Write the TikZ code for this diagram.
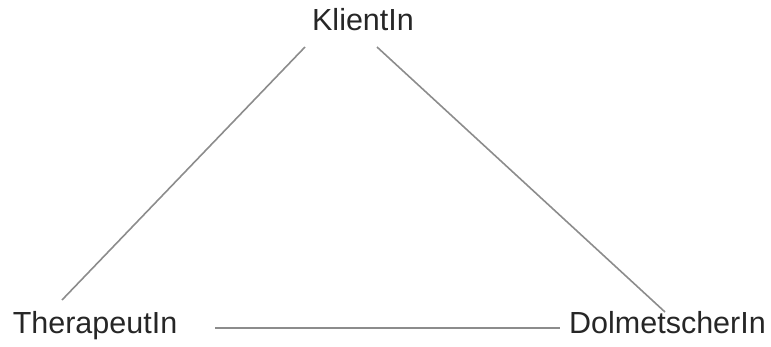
\documentclass[tikz,border=0pt]{standalone}
\usepackage{fontspec}
\setmainfont{Liberation Sans}
\begin{document}
\begin{tikzpicture}[x=1pt,y=1pt,
  lbl/.style={anchor=base,inner sep=0pt,text=black!85,font=\fontsize{30.5}{34}\selectfont},
  edge/.style={draw=black!45,line width=1.6pt}]
\useasboundingbox (0,0) rectangle (771,346);
\node[lbl] (k) at (363,315) {KlientIn};
\node[lbl] (t) at (95,13) {TherapeutIn};
\node[lbl] (d) at (667.5,13) {DolmetscherIn};
\coordinate (kl) at (305,299);
\coordinate (kr) at (377,299);
\coordinate (tu) at (62,46);
\coordinate (tr) at (215,18);
\coordinate (du) at (665,34);
\coordinate (dl) at (560,18);
\draw[edge] (kl) -- (tu);
\draw[edge] (kr) -- (du);
\draw[edge] (tr) -- (dl);
\end{tikzpicture}
\end{document}
